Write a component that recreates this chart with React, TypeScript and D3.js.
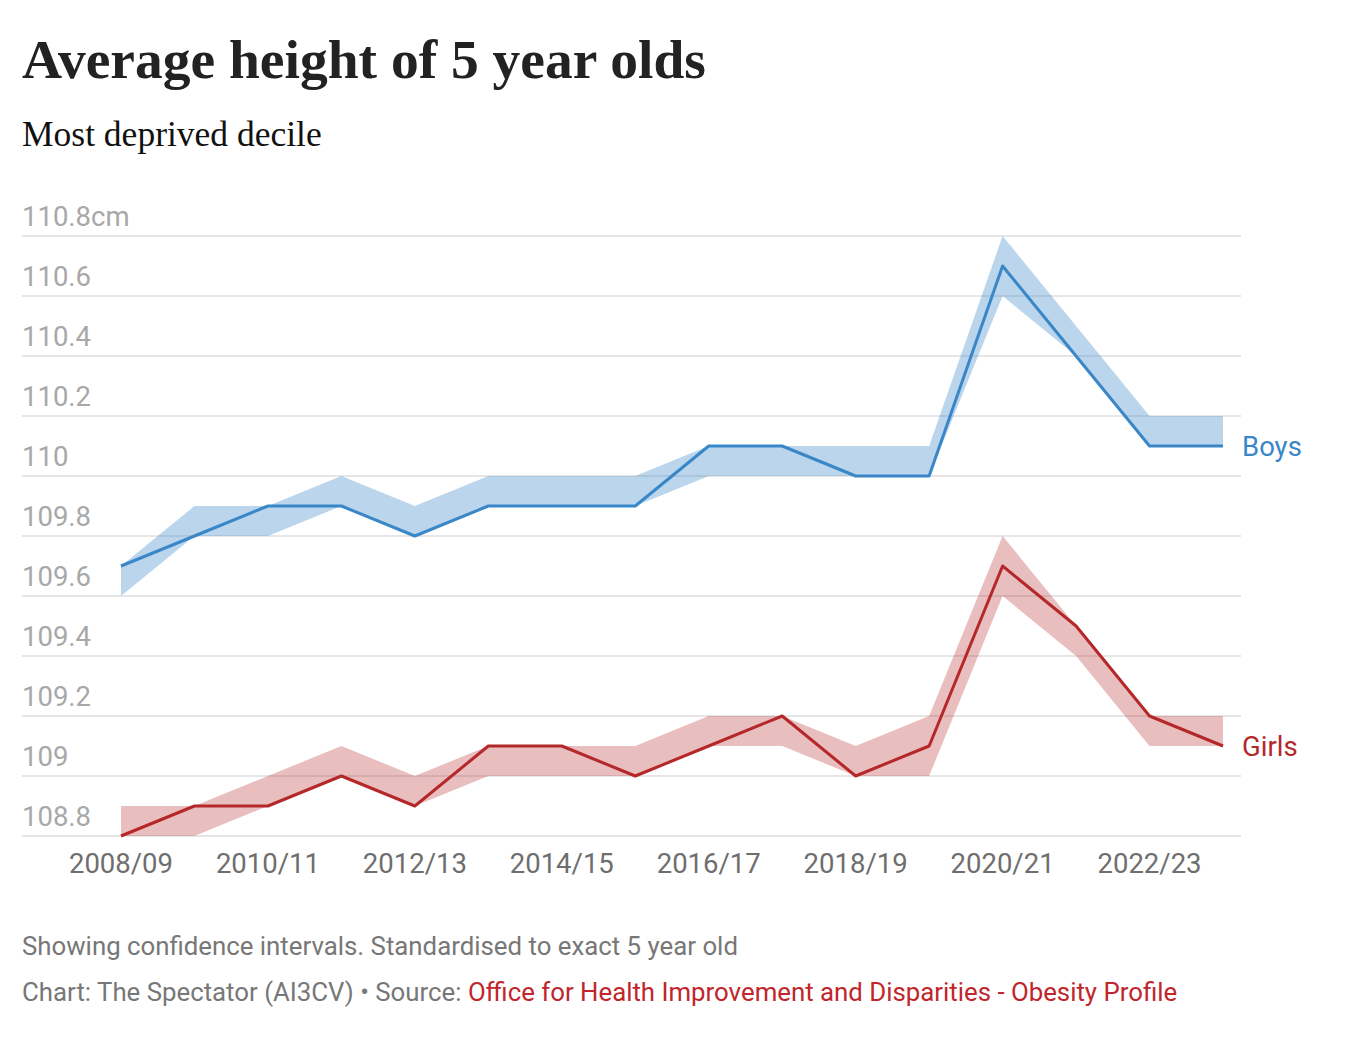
import * as d3 from "d3";

const years = [
  "2008/09", "2009/10", "2010/11", "2011/12", "2012/13", "2013/14", "2014/15", "2015/16",
  "2016/17", "2017/18", "2018/19", "2019/20", "2020/21", "2021/22", "2022/23", "2023/24",
];
const tickYears = ["2008/09", "2010/11", "2012/13", "2014/15", "2016/17", "2018/19", "2020/21", "2022/23"];

const boys = [109.7, 109.8, 109.9, 109.9, 109.8, 109.9, 109.9, 109.9, 110.1, 110.1, 110.0, 110.0, 110.7, 110.4, 110.1, 110.1];
const boysLow = [109.6, 109.8, 109.8, 109.9, 109.8, 109.9, 109.9, 109.9, 110.0, 110.0, 110.0, 110.0, 110.6, 110.4, 110.1, 110.1];
const boysHigh = [109.7, 109.9, 109.9, 110.0, 109.9, 110.0, 110.0, 110.0, 110.1, 110.1, 110.1, 110.1, 110.8, 110.5, 110.2, 110.2];

const girls = [108.8, 108.9, 108.9, 109.0, 108.9, 109.1, 109.1, 109.0, 109.1, 109.2, 109.0, 109.1, 109.7, 109.5, 109.2, 109.1];
const girlsLow = [108.8, 108.8, 108.9, 109.0, 108.9, 109.0, 109.0, 109.0, 109.1, 109.1, 109.0, 109.0, 109.6, 109.4, 109.1, 109.1];
const girlsHigh = [108.9, 108.9, 109.0, 109.1, 109.0, 109.1, 109.1, 109.1, 109.2, 109.2, 109.1, 109.2, 109.8, 109.5, 109.2, 109.2];

const yTicks = [108.8, 109, 109.2, 109.4, 109.6, 109.8, 110, 110.2, 110.4, 110.6, 110.8];

const BLUE = "#3a87c8";
const RED = "#b5282a";
const SANS = "Roboto, 'Noto Sans', sans-serif";
const SERIF = "'Liberation Serif', 'DejaVu Serif', serif";

export default function App() {
  const width = 1366;
  const height = 1046;
  const x = d3.scalePoint<string>().domain(years).range([121, 1223]);
  const y = d3.scaleLinear().domain([108.8, 110.8]).range([836, 236]);

  const idx = years.map((_, i) => i);
  const line = (vals: number[]) =>
    d3.line<number>().x((i) => x(years[i])!).y((i) => y(vals[i]))(idx) ?? "";
  const band = (lo: number[], hi: number[]) =>
    d3.area<number>().x((i) => x(years[i])!).y0((i) => y(lo[i])).y1((i) => y(hi[i]))(idx) ?? "";

  const fmt = (v: number) => `${+v.toFixed(1)}`;
  const last = years.length - 1;

  return (
    <svg
      width={width}
      height={height}
      style={{ position: "absolute", left: 0, top: 0, background: "#fff" }}
    >
      <text x={22} y={78} fontFamily={SERIF} fontWeight={700} fontSize={55.5} fill="#222">
        Average height of 5 year olds
      </text>
      <text x={22} y={146} fontFamily={SERIF} fontSize={35.5} fill="#111">
        Most deprived decile
      </text>

      {/* grid + y labels */}
      {yTicks.map((t) => (
        <g key={t}>
          <line x1={22} x2={1241} y1={y(t)} y2={y(t)} stroke="#e6e6e6" strokeWidth={2} />
          <text x={22} y={y(t) - 10} fontFamily={SANS} fontSize={27.5} fill="#a8a8a8">
            {fmt(t) + (t === 110.8 ? "cm" : "")}
          </text>
        </g>
      ))}

      {/* x labels */}
      {tickYears.map((t) => (
        <text key={t} x={x(t)} y={873} textAnchor="middle" fontFamily={SANS} fontSize={27.5} fill="#6e6e6e">
          {t}
        </text>
      ))}

      <path d={band(boysLow, boysHigh)} fill={BLUE} fillOpacity={0.35} />
      <path d={band(girlsLow, girlsHigh)} fill={RED} fillOpacity={0.3} />
      <path d={line(boys)} fill="none" stroke={BLUE} strokeWidth={3} strokeLinejoin="round" />
      <path d={line(girls)} fill="none" stroke={RED} strokeWidth={3} strokeLinejoin="round" />

      <text x={x(years[last])! + 19} y={y(boys[last]) + 10} fontFamily={SANS} fontSize={27.5} fill={BLUE}>
        Boys
      </text>
      <text x={x(years[last])! + 19} y={y(girls[last]) + 10} fontFamily={SANS} fontSize={27.5} fill={RED}>
        Girls
      </text>

      <text x={22} y={955} fontFamily={SANS} fontSize={25.8} fill="#777">
        Showing confidence intervals. Standardised to exact 5 year old
      </text>
      <text x={22} y={1001} fontFamily={SANS} fontSize={25.8} fill="#777">
        Chart: The Spectator (AI3CV) • Source: <tspan fill="#c0262c">Office for Health Improvement and Disparities - Obesity Profile</tspan>
      </text>
    </svg>
  );
}
